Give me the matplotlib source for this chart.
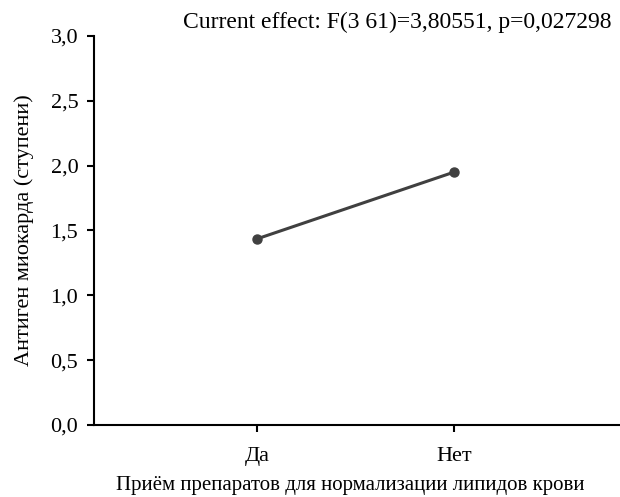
import matplotlib
matplotlib.use("Agg")
import matplotlib.pyplot as plt
from matplotlib.ticker import FuncFormatter

# --- Data ---
categories = ["Да", "Нет"]
means = [1.435, 1.95]
y_ticks = [0.0, 0.5, 1.0, 1.5, 2.0, 2.5, 3.0]

plt.rcParams["font.family"] = ["Liberation Serif", "DejaVu Serif"]

fig = plt.figure(figsize=(6.2, 4.97), dpi=100)
ax = fig.add_axes([0.151, 0.145, 0.849, 0.783])

x = list(range(len(categories)))
ax.plot(x, means, color="#404040", linewidth=2.2, marker="o", markersize=6.5)

ax.set_xlim(-0.83, 1.84)
ax.set_ylim(0, 3.0)
ax.set_xticks(x)
ax.set_xticklabels(categories)
ax.set_yticks(y_ticks)
ax.yaxis.set_major_formatter(FuncFormatter(lambda v, p: f"{v:.1f}".replace(".", ",")))

for side in ["top", "right"]:
    ax.spines[side].set_visible(False)
for side in ["left", "bottom"]:
    ax.spines[side].set_linewidth(1.5)
ax.tick_params(axis="both", direction="out", length=5, width=1.5, labelsize=16)
ax.tick_params(axis="y", pad=6)
ax.tick_params(axis="x", pad=11)

ax.set_xlabel("Приём препаратов для нормализации липидов крови", fontsize=15)
ax.xaxis.set_label_coords(0.487, -0.13)
ax.set_ylabel("Антиген миокарда (ступени)", fontsize=16, labelpad=12)

fig.text(0.987, 0.933, "Current effect: F(3 61)=3,80551, p=0,027298",
         ha="right", va="bottom", fontsize=17)

fig.savefig("out.png", dpi=100)
